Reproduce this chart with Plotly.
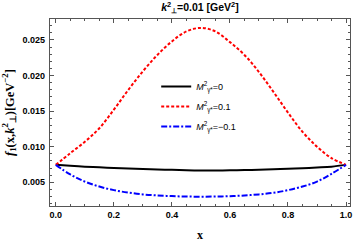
import plotly.graph_objects as go

x_vals = [0.0, 0.05, 0.1, 0.15, 0.2, 0.25, 0.3, 0.35, 0.4, 0.45, 0.5,
          0.55, 0.6, 0.65, 0.7, 0.75, 0.8, 0.85, 0.9, 0.95, 1.0]
f_m0 = [0.00745, 0.00732, 0.0072, 0.0071, 0.00702, 0.00695, 0.00688, 0.00681, 0.00675, 0.0067, 0.00666,
        0.00666, 0.00668, 0.00672, 0.00677, 0.00683, 0.0069, 0.00698, 0.00708, 0.0072, 0.00745]
f_mp = [0.00745, 0.0091, 0.0107, 0.0126, 0.0152, 0.0180, 0.0206, 0.0229, 0.0248, 0.0262, 0.0267,
        0.0262, 0.0247, 0.0229, 0.0205, 0.0177, 0.0148, 0.0121, 0.0100, 0.0084, 0.00745]
f_mn = [0.00745, 0.0061, 0.0051, 0.0044, 0.0039, 0.00355, 0.0033, 0.00316, 0.00306, 0.003, 0.00298,
        0.003, 0.00305, 0.00315, 0.0033, 0.00352, 0.0039, 0.0044, 0.0051, 0.0062, 0.00745]

names = ["<i>M</i><sup>2</sup><sub>γ*</sub>=0",
         "<i>M</i><sup>2</sup><sub>γ*</sub>=0.1",
         "<i>M</i><sup>2</sup><sub>γ*</sub>=−0.1"]

x_ticks = [0.0, 0.2, 0.4, 0.6, 0.8, 1.0]
x_ticklabels = ["0.0", "0.2", "0.4", "0.6", "0.8", "1.0"]
y_ticks = [0.005, 0.010, 0.015, 0.020, 0.025]
y_ticklabels = ["0.005", "0.010", "0.015", "0.020", "0.025"]

fig = go.Figure()
fig.add_trace(go.Scatter(x=x_vals, y=f_m0, mode="lines", name=names[0], legendgroup="a",
                         line=dict(color="black", width=2, shape="spline")))
fig.add_trace(go.Scatter(x=x_vals, y=f_mp, mode="lines", name=names[1], legendgroup="b",
                         line=dict(color="#ff0000", width=2, dash="3px,2px", shape="spline")))
fig.add_trace(go.Scatter(x=x_vals, y=f_mn, mode="lines", name=names[2], legendgroup="c",
                         line=dict(color="#0000ff", width=2, dash="6px,2px,2px,2px", shape="spline")))

axis_common = dict(showgrid=False, zeroline=False, showline=True, linecolor="#555",
                   linewidth=1.2, mirror="allticks", ticks="inside", ticklen=4,
                   tickcolor="#555", tickwidth=1, ticklabeloverflow="allow",
                   tickfont=dict(family="Liberation Sans", size=9, color="black", weight="bold"))

fig.update_xaxes(range=[-0.02, 1.0137], tickvals=x_ticks, ticktext=x_ticklabels,
                 minor=dict(ticks="inside", ticklen=2, dtick=0.05, tickcolor="#555"),
                 title=dict(text="<b>x</b>", font=dict(family="Liberation Serif", size=12, color="black"),
                            standoff=11),
                 **axis_common)
fig.update_yaxes(range=[0.00167, 0.02795], tickvals=y_ticks, ticktext=y_ticklabels,
                 minor=dict(ticks="inside", ticklen=2, dtick=0.001, tickcolor="#555"),
                 ticklabelstandoff=2,
                 title=dict(text="<b><i>f</i><sub>1</sub>(x,<i>k</i><sup>2</sup><sub>⊥</sub>)[GeV<sup>−2</sup>]</b>",
                            font=dict(family="Liberation Serif", size=12.5, color="black"),
                            standoff=5),
                 **axis_common)

fig.update_layout(
    width=357, height=244,
    margin=dict(l=50, r=5, t=19, b=38),
    paper_bgcolor="white", plot_bgcolor="white",
    title=dict(text="<b><i>k</i><sup>2</sup><sub>⊥</sub>=0.01 [GeV<sup>2</sup>]</b>",
               x=0.56, xanchor="center", y=0.985, yanchor="top",
               font=dict(family="Liberation Sans", size=10.5, color="black")),
    legend=dict(x=0.354, y=0.717, xanchor="left", yanchor="top", bgcolor="rgba(0,0,0,0)",
                font=dict(family="Liberation Sans", size=9, color="black"),
                tracegroupgap=1),
    showlegend=True,
)

fig.write_html("out.html", config={"displayModeBar": False},
               post_script="document.body.style.margin='0';")
